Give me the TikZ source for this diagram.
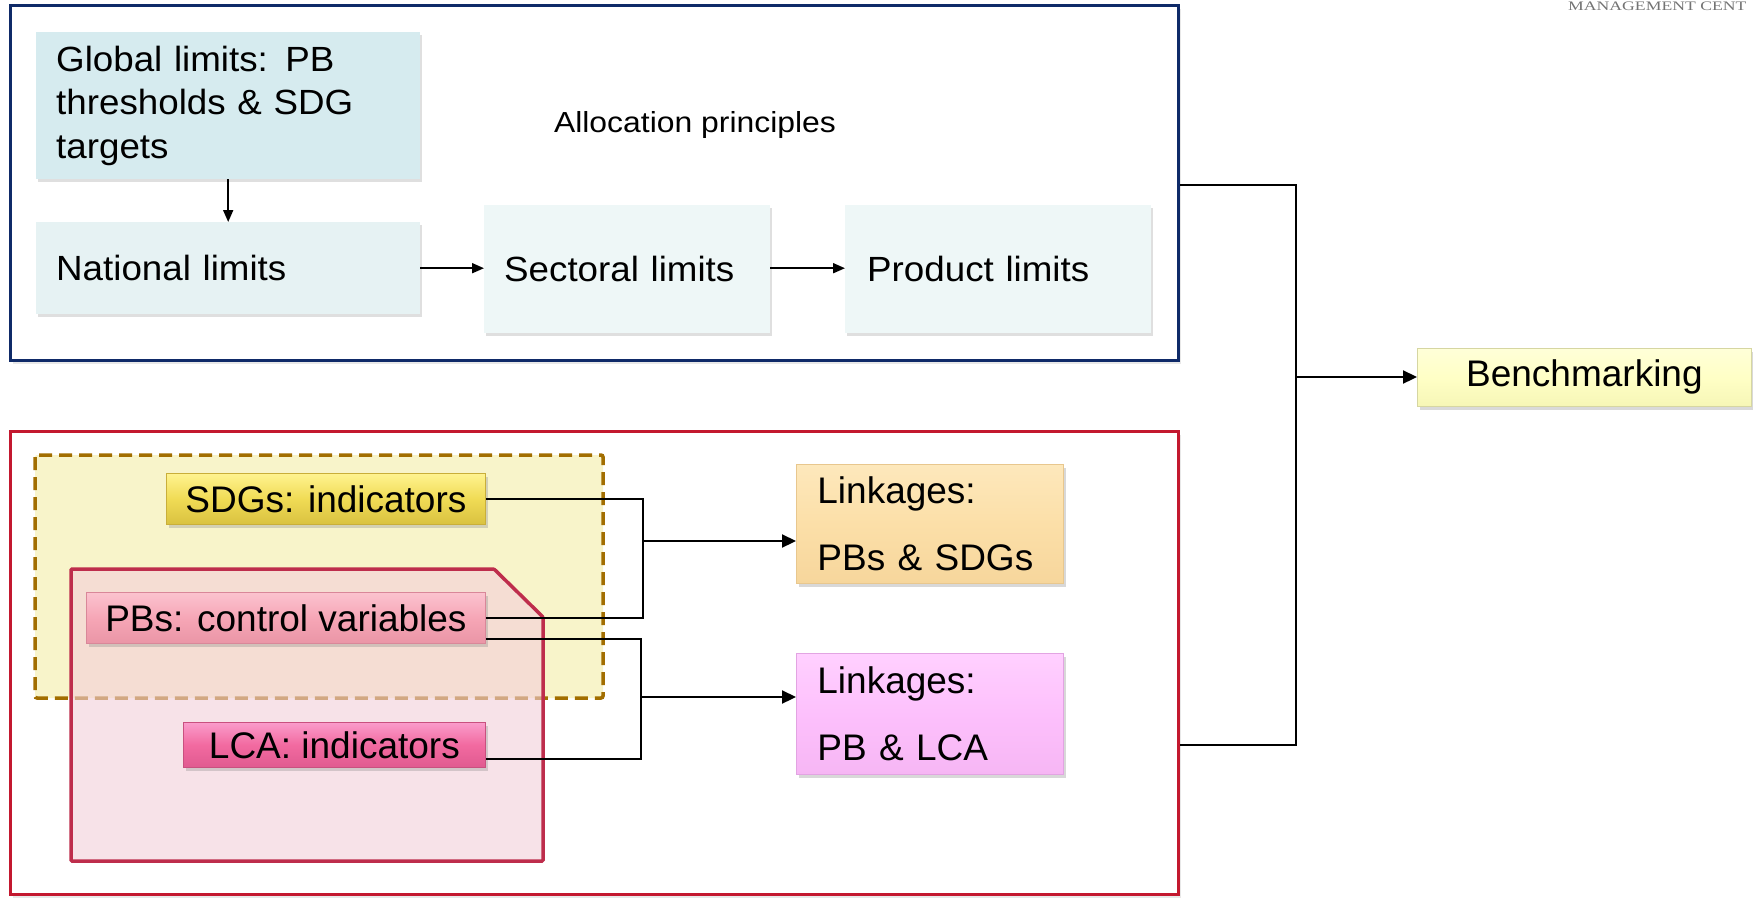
\documentclass[tikz,border=0pt]{standalone}
\usepackage{fontspec}
\setmainfont{Liberation Sans}
\newfontfamily\widesans{Liberation Sans}[FakeStretch=1.05]
\newfontfamily\allocfont{Liberation Sans}[FakeStretch=1.1]
\newfontfamily\headserif{Liberation Serif}
\usetikzlibrary{shadows,arrows.meta,calc}

\definecolor{navyframe}{HTML}{0F2A68}
\definecolor{redframe}{HTML}{C3182F}
\definecolor{globfill}{HTML}{D6EBEF}
\definecolor{natfill}{HTML}{E6F2F3}
\definecolor{secfill}{HTML}{EEF7F7}
\definecolor{dashfill}{HTML}{F8F4CA}
\definecolor{dashline}{HTML}{A26E00}
\definecolor{pentline}{HTML}{BE2D4C}
\definecolor{pentfill}{HTML}{F3CFDA}
\definecolor{sdgtop}{HTML}{FFF390}
\definecolor{sdgmid}{HTML}{F0DB55}
\definecolor{sdgbot}{HTML}{D9C240}
\definecolor{sdgedge}{HTML}{C9AE3A}
\definecolor{pbtop}{HTML}{FBC3CF}
\definecolor{pbmid}{HTML}{F6A6B6}
\definecolor{pbbot}{HTML}{EA95A6}
\definecolor{pbedge}{HTML}{D98799}
\definecolor{lcatop}{HTML}{FA9CCB}
\definecolor{lcamid}{HTML}{F26AA0}
\definecolor{lcabot}{HTML}{E05A90}
\definecolor{lcaedge}{HTML}{C9507F}
\definecolor{lkatop}{HTML}{FDE8BC}
\definecolor{lkamid}{HTML}{FCDFA8}
\definecolor{lkabot}{HTML}{F6D69C}
\definecolor{lkaedge}{HTML}{E8C78E}
\definecolor{lkbtop}{HTML}{FFD0FF}
\definecolor{lkbmid}{HTML}{FDC0FC}
\definecolor{lkbbot}{HTML}{F6B6F4}
\definecolor{lkbedge}{HTML}{E2A4E2}
\definecolor{bmtop}{HTML}{FFFFD8}
\definecolor{bmmid}{HTML}{FFFFC6}
\definecolor{bmbot}{HTML}{F6F6B6}
\definecolor{bmedge}{HTML}{D6D6A2}

\tikzset{
  frame/.style={anchor=north west, line width=3pt, fill=white, inner sep=0pt,
    drop shadow={shadow xshift=2pt, shadow yshift=-3pt, opacity=0.18}},
  limbox/.style={anchor=north west, inner xsep=20pt, inner ysep=0pt, align=left,
    font=\widesans\fontsize{35}{43.5}\selectfont,
    drop shadow={shadow xshift=2pt, shadow yshift=-3pt, opacity=0.25}},
  tag/.style={anchor=north west, inner sep=0pt, draw, line width=0.8pt, align=center,
    font=\fontsize{37}{44}\selectfont,
    drop shadow={shadow xshift=3pt, shadow yshift=-4pt, opacity=0.3}},
  linkbox/.style={tag, align=left, inner xsep=21pt, font=\fontsize{37}{67}\selectfont},
  conn/.style={line width=1.4pt, black},
  arr/.style={line width=2.2pt, black, -{Triangle[length=14pt,width=13pt]}},
  smallarr/.style={line width=1.8pt, black, -{Triangle[length=12pt,width=10pt]}}
}

\begin{document}
\begin{tikzpicture}[x=1pt, y=-1pt]
\useasboundingbox (0,0) rectangle (1753,897);

% page header
\node[anchor=north west, inner sep=0pt, text=black!55,
      font=\headserif\fontsize{13}{13}\selectfont] (hdr) at (1568,2)
      {\scalebox{1.36}[1]{MANAGEMENT CENT}};

% ---------- allocation chain ----------
\node[frame, draw=navyframe, minimum width=1168pt, minimum height=355pt] (alloc) at (9,4) {};

\node[limbox, fill=globfill, minimum width=384pt, minimum height=147pt, text width=344pt]
  (global) at (36,32) {Global limits: PB\\thresholds \& SDG\\targets};
\node[limbox, fill=natfill, minimum width=384pt, minimum height=92pt, text width=344pt]
  (national) at (36,222) {National limits};
\node[limbox, fill=secfill, minimum width=286pt, minimum height=128pt, text width=246pt]
  (sectoral) at (484,205) {Sectoral limits};
\node[limbox, fill=secfill, minimum width=306pt, minimum height=128pt, text width=262pt,
      inner xsep=22pt]
  (product) at (845,205) {Product limits};

\node[inner sep=0pt, font=\allocfont\fontsize{29}{34}\selectfont] (allocp) at (695,125)
  {Allocation principles};

\draw[smallarr] (global) -- (national);
\draw[smallarr] (national.east) -- (sectoral.west |- national.east);
\draw[smallarr] (sectoral.east |- national.east) -- (product.west |- national.east);

% ---------- indicator linkages ----------
\node[frame, draw=redframe, minimum width=1168pt, minimum height=463pt] (ind) at (9,430) {};

\draw[dashline, fill=dashfill, line width=3.5pt, dash pattern=on 13pt off 7pt,
      rounded corners=2pt] (35,455) rectangle (603,698);
\draw[pentline, line width=3.5pt, fill=pentfill, fill opacity=0.6, rounded corners=1pt]
  (71,569) -- (494,569) -- (543,617) -- (543,861) -- (71,861) -- cycle;

\node[tag, draw=sdgedge, top color=sdgtop, bottom color=sdgbot, middle color=sdgmid,
      minimum width=319pt, minimum height=51pt] (sdg) at (166,473) {SDGs: indicators};
\node[tag, draw=pbedge, top color=pbtop, bottom color=pbbot, middle color=pbmid,
      minimum width=399pt, minimum height=51pt] (pbs) at (86,592) {PBs: control variables};
\node[tag, draw=lcaedge, top color=lcatop, bottom color=lcabot, middle color=lcamid,
      minimum width=302pt, minimum height=45pt] (lca) at (183,722) {LCA: indicators};

\node[linkbox, draw=lkaedge, top color=lkatop, bottom color=lkabot, middle color=lkamid,
      minimum width=267pt, minimum height=119pt, text width=225pt] (linka) at (796,464)
  {Linkages:\\PBs \& SDGs};
\node[linkbox, draw=lkbedge, top color=lkbtop, bottom color=lkbbot, middle color=lkbmid,
      minimum width=267pt, minimum height=121pt, text width=225pt] (linkb) at (796,653)
  {Linkages:\\PB \& LCA};

% bracket: SDGs + PBs -> linkages PBs & SDGs
\coordinate (ja) at (643,541);
\draw[conn] (sdg.east) -| (pbs.east -| ja) -- (pbs.east);
\draw[arr] (ja) -- (linka.west |- ja);

% bracket: PBs + LCA -> linkages PB & LCA
\coordinate (jb) at (641,697);
\coordinate (pblow) at ($(pbs.south east)+(0,-5)$);
\coordinate (lcalow) at ($(lca.south east)+(0,-9)$);
\draw[conn] (pblow) -| (lcalow -| jb) -- (lcalow);
\draw[arr] (jb) -- (linkb.west |- jb);

% ---------- benchmarking ----------
\node[tag, draw=bmedge, top color=bmtop, bottom color=bmbot, middle color=bmmid,
      minimum width=334pt, minimum height=58pt] (bench) at (1417,348) {Benchmarking};

\coordinate (jc) at (1296,377);
\coordinate (jctop) at (1296,185);
\coordinate (jcbot) at (1296,745);
\draw[conn] (alloc.east |- jctop) -- (jctop) -- (jcbot) -- (ind.east |- jcbot);
\draw[arr] (jc) -- (bench.west |- jc);
\end{tikzpicture}
\end{document}
